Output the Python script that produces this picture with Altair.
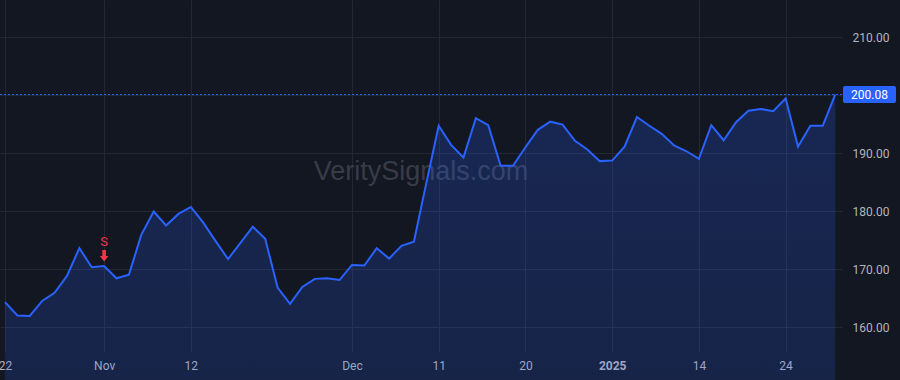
import altair as alt
import pandas as pd

# Closing prices, one per trading day (22 Oct 2024 -> 30 Jan 2025)
prices = [164.3, 162.0, 161.9, 164.5, 165.9, 168.8, 173.6, 170.3, 170.5, 168.4,
          169.0, 175.9, 179.9, 177.5, 179.5, 180.7, 178.0, 174.8, 171.7, 174.5,
          177.3, 175.2, 166.8, 164.0, 166.9, 168.3, 168.4, 168.1, 170.7, 170.6,
          173.6, 171.8, 174.0, 174.7, 184.8, 194.7, 191.4, 189.2, 196.0, 194.8,
          187.8, 187.8, 191.0, 194.0, 195.4, 194.9, 192.1, 190.6, 188.6, 188.7,
          191.1, 196.2, 194.7, 193.3, 191.3, 190.3, 189.0, 194.8, 192.2, 195.3,
          197.3, 197.6, 197.2, 199.4, 191.1, 194.7, 194.7, 200.08]

# x-axis ticks (trading-day positions) and their labels
tick_pos = [0, 8, 15, 28, 35, 42, 49, 56, 63]
tick_labels = ["22", "Nov", "12", "Dec", "11", "20", "2025", "14", "24"]
bold_tick = 49

y_ticks = [160, 170, 180, 190, 200, 210]

# signal marker
signal_pos = [8]
signal_text = ["S"]

watermark = ["VeritySignals.com"]

BG = "#131722"
BLUE = "#2962ff"
RED = "#f23645"
GRID = "#242833"
LABEL = "#b2b5be"
FONT = "Roboto"

df = pd.DataFrame({"i": list(range(len(prices))), "price": prices})
sig = pd.DataFrame({"i": signal_pos, "s": signal_text,
                    "price": [prices[k] for k in signal_pos]})
wm = pd.DataFrame({"t": watermark})
last = prices[-1]
last_df = pd.DataFrame({"price": [last], "t": [f"{last:.2f}"]})

label_expr = ("[" + ",".join(f"'{l}'" for l in tick_labels) + "][indexof(["
              + ",".join(str(p) for p in tick_pos) + "], datum.value)]")

xscale = alt.Scale(domain=[-0.404, 67.55], nice=False, zero=False)
yscale = alt.Scale(domain=[155.69, 216.38], nice=False, zero=False)

xaxis = alt.Axis(values=tick_pos, labelExpr=label_expr, grid=True, ticks=False,
                 domain=False, labelPadding=8, labelFlush=False, labelOverlap=False,
                 title=None,
                 labelFontWeight=alt.condition(f"datum.value == {bold_tick}",
                                               alt.value("bold"), alt.value("normal")))
yaxis = alt.Axis(orient="right", values=y_ticks, format=".2f", grid=True,
                 ticks=False, domain=False, labelPadding=10, title=None)

x = alt.X("i:Q", scale=xscale, axis=xaxis)
y = alt.Y("price:Q", scale=yscale, axis=yaxis)

wm_layer = alt.Chart(wm).mark_text(fontSize=27, font="Liberation Sans",
                                   color="#383c48").encode(
    text="t:N", x=alt.value(421), y=alt.value(172))

area = alt.Chart(df).mark_area(
    color=alt.Gradient(gradient="linear",
                       stops=[alt.GradientStop(color="rgba(41,98,255,0.03)", offset=0),
                              alt.GradientStop(color="rgba(41,98,255,0.22)", offset=1)],
                       x1=0, x2=0, y1=1, y2=0)
).encode(x=x, y=y, y2=alt.value(352))

line = alt.Chart(df).mark_line(color=BLUE, strokeWidth=2).encode(x=x, y=y)

rule = alt.Chart(last_df).mark_rule(color=BLUE, strokeDash=[2, 2], strokeWidth=1).encode(
    y=alt.Y("price:Q", scale=yscale, axis=yaxis), x=alt.value(0), x2=alt.value(843))

box = alt.Chart(last_df).mark_rect(color=BLUE, cornerRadius=2, yOffset=-8.5,
                                   y2Offset=8.5).encode(
    y=alt.Y("price:Q", scale=yscale, axis=yaxis), y2="price:Q",
    x=alt.value(843), x2=alt.value(896))

box_text = alt.Chart(last_df).mark_text(color="white", fontSize=12, font=FONT,
                                        align="center", baseline="middle").encode(
    y=alt.Y("price:Q", scale=yscale, axis=yaxis), x=alt.value(869.5), text="t:N")

sig_text = alt.Chart(sig).mark_text(color=RED, fontSize=13, font=FONT, yOffset=-24,
                                    baseline="middle").encode(x=x, y=y, text="s:N")
sig_arrow = alt.Chart(sig).mark_point(
    shape="M-0.3,-1L0.3,-1L0.3,0L0.7,0L0,0.9L-0.7,0L-0.3,0Z",
    size=150, filled=True, color=RED, opacity=1, yOffset=-10).encode(x=x, y=y)

chart = alt.layer(wm_layer, area, line, rule, box, box_text, sig_text, sig_arrow).properties(
    width=842, height=352,
    autosize=alt.AutoSizeParams(type="none"),
    padding={"left": 0, "right": 58, "top": 0, "bottom": 28},
    background=BG,
).configure_view(stroke=None, fill=BG).configure_axis(
    labelColor=LABEL, labelFont=FONT, labelFontSize=12, gridColor=GRID, gridWidth=1
)

chart.save("out.html", embed_options={"renderer": "svg", "actions": False})
